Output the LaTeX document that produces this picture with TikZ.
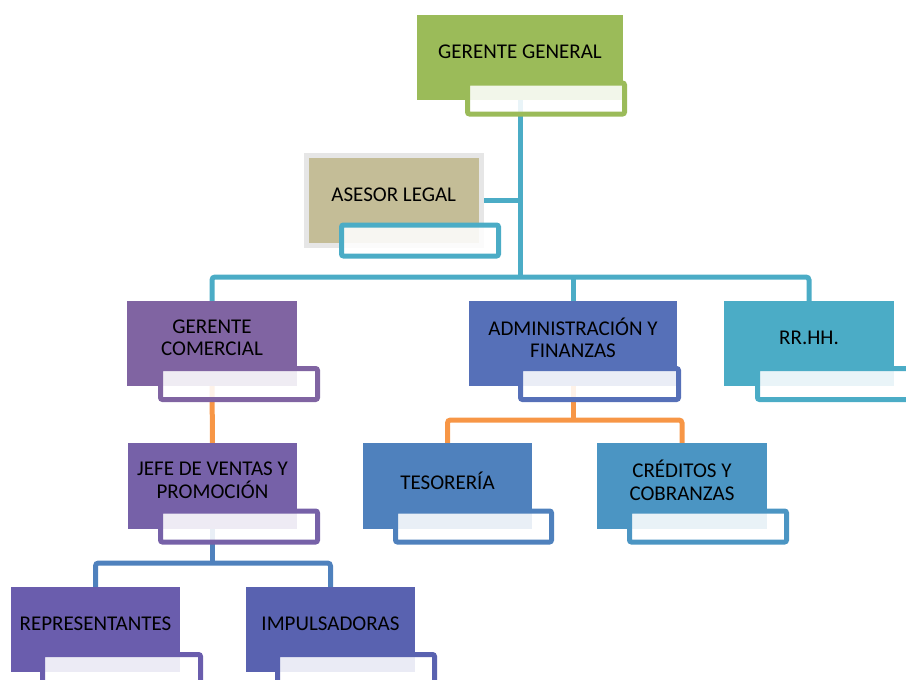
\documentclass[tikz,border=0pt]{standalone}
\usepackage{fontspec}
\setmainfont{Carlito}
\pgfdeclarelayer{background}
\pgfsetlayers{background,main}
\definecolor{cGG}{HTML}{9BBB59}
\definecolor{cAL}{HTML}{C4BD97}
\definecolor{cALb}{HTML}{E6E6E6}
\definecolor{cGC}{HTML}{8064A2}
\definecolor{cADM}{HTML}{5670B8}
\definecolor{cRR}{HTML}{4BACC6}
\definecolor{cJEF}{HTML}{7661A8}
\definecolor{cTES}{HTML}{4F81BD}
\definecolor{cCRE}{HTML}{4B95C3}
\definecolor{cREP}{HTML}{6A5DAD}
\definecolor{cIMP}{HTML}{5962B0}
\definecolor{cOra}{HTML}{F79646}
\tikzset{
  mainbox/.style={rectangle, draw=none, fill=#1, inner sep=0pt, outer sep=0pt},
  subbox/.style={rectangle, draw=#1, line width=5pt, fill=white, fill opacity=0.88,
     rounded corners=2pt, minimum width=157pt, minimum height=31pt, inner sep=0pt},
  lbl/.style={font=\fontsize{21}{22.5}\selectfont, text=black, align=center, yshift=5.5pt, inner sep=0pt},
  conn/.style={draw=#1, line width=5pt, rounded corners=3pt},
}
\begin{document}
\begin{tikzpicture}[x=1pt,y=-1pt]
\useasboundingbox (0,0) rectangle (906,680);
\clip (0,0) rectangle (906,680);
% main boxes
\node[mainbox=cGG, minimum width=206pt, minimum height=85pt, label={[lbl]center:GERENTE GENERAL}] (gg) at (520,57.5) {};
\node[mainbox=cAL, draw=cALb, line width=5pt, minimum width=174.5pt, minimum height=90pt, label={[lbl]center:ASESOR LEGAL}] (al) at (393.75,200.5) {};
\node[mainbox=cGC, minimum width=170pt, minimum height=85pt, label={[lbl]center:GERENTE\\COMERCIAL}] (gc) at (212,343.5) {};
\node[mainbox=cADM, minimum width=208pt, minimum height=85pt, label={[lbl]center:ADMINISTRACIÓN Y\\FINANZAS}] (adm) at (573,343.5) {};
\node[mainbox=cRR, minimum width=170pt, minimum height=85pt, label={[lbl]center:RR.HH.}] (rr) at (809,343.5) {};
\node[mainbox=cJEF, minimum width=169pt, minimum height=86pt, label={[lbl]center:JEFE DE VENTAS Y\\PROMOCIÓN}] (jefe) at (212.5,486) {};
\node[mainbox=cTES, minimum width=169pt, minimum height=86pt, label={[lbl]center:TESORERÍA}] (tes) at (447.5,486) {};
\node[mainbox=cCRE, minimum width=170pt, minimum height=86pt, label={[lbl]center:CRÉDITOS Y\\COBRANZAS}] (cred) at (682,486) {};
\node[mainbox=cREP, minimum width=169pt, minimum height=85pt, label={[lbl]center:REPRESENTANTES}] (rep) at (95.5,629.5) {};
\node[mainbox=cIMP, minimum width=169pt, minimum height=85pt, label={[lbl]center:IMPULSADORAS}] (imp) at (330.5,629.5) {};
% sub boxes
\node[subbox=cGG] (ggs) at (546,98.5) {};
\node[subbox=cRR] (als) at (420,240.5) {};
\node[subbox=cGC] (gcs) at (239,384) {};
\node[subbox=cADM, minimum width=158pt] (adms) at (599.5,384) {};
\node[subbox=cRR] (rrs) at (836,384) {};
\node[subbox=cJEF] (jefes) at (239,526.5) {};
\node[subbox=cTES, minimum width=156pt] (tess) at (473.5,526.5) {};
\node[subbox=cCRE] (creds) at (708,526.5) {};
\node[subbox=cREP, minimum width=158pt] (reps) at (121.5,670) {};
\node[subbox=cIMP] (imps) at (356,670) {};
% connectors
\coordinate (busA) at (520,277);
\coordinate (busB) at (573,420);
\coordinate (busC) at (212.5,563);
\begin{pgfonlayer}{background}
\draw[conn=cRR] (gg.south) -- (busA);
\draw[conn=cRR] (al.east) -- (al.east -| gg.south);
\draw[conn=cRR] (gc.north) |- (busA) -| (rr.north);
\draw[conn=cRR] (adm.north) -- (adm.north |- busA);
\draw[conn=cOra] (gc.south) -- (jefe.north);
\draw[conn=cOra] (adm.south) -- (busB);
\draw[conn=cOra] (tes.north) |- (busB) -| (cred.north);
\draw[conn=cTES] (jefe.south) -- (busC);
\draw[conn=cTES] (rep.north) |- (busC) -| (imp.north);
\end{pgfonlayer}
\end{tikzpicture}
\end{document}
